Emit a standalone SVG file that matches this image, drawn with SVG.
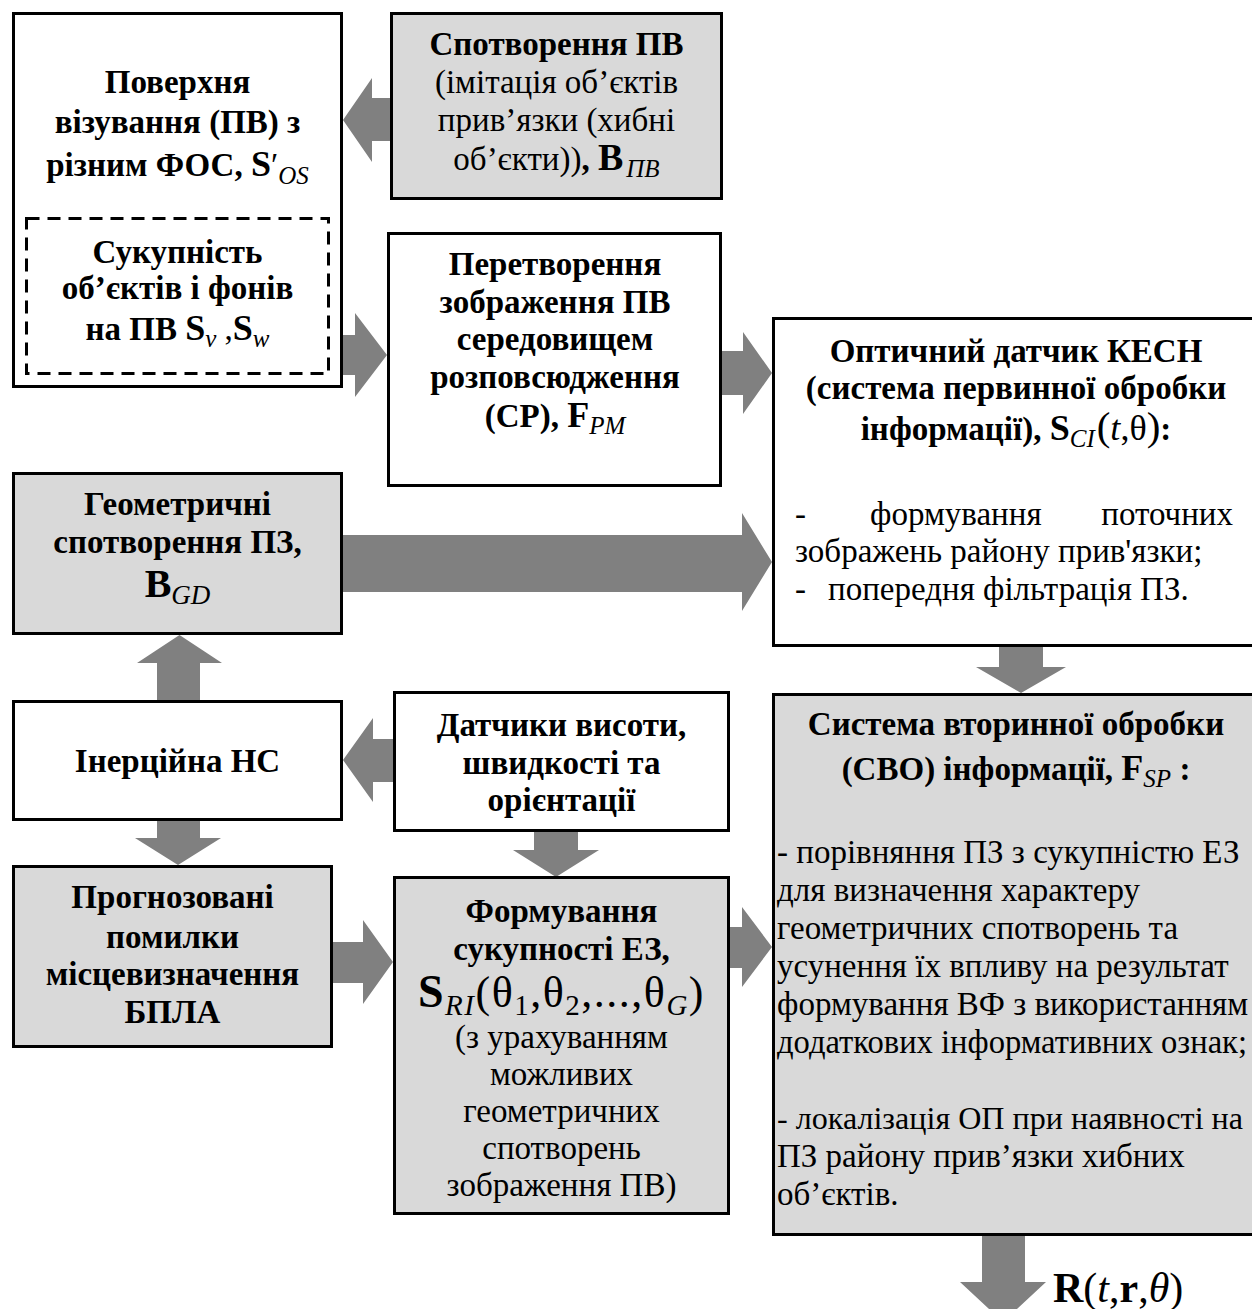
<svg xmlns="http://www.w3.org/2000/svg" width="1252" height="1309" viewBox="0 0 1252 1309">
  <style>
    .box { stroke: #000; stroke-width: 3; }
    .w { fill: #fff; }
    .g { fill: #d9d9d9; }
    .dash { fill: none; stroke: #000; stroke-width: 3; stroke-dasharray: 13 8; }
    .arrow { fill: #808080; }
    text { font-family: "Liberation Serif", "Times New Roman", serif; font-size: 33px; fill: #000; }
    .c { text-anchor: middle; }
    .b { font-weight: bold; }
    .n { font-weight: normal; font-style: normal; }
    .i { font-style: italic; font-weight: normal; }
    .sym { font-size: 36px; font-weight: bold; font-style: normal; }
    .sub { font-size: 25px; }
  </style>

  <rect x="0" y="0" width="1252" height="1309" fill="#fff"/>

  <!-- connectors: thick block arrows -->
  <g id="connectors">
    <polygon class="arrow" points="390,98 372,98 372,78 343,120 372,162 372,141 390,141"/>
    <polygon class="arrow" points="343,335 355,335 355,313 387,355 355,397 355,375 343,375"/>
    <polygon class="arrow" points="722,351 743,351 743,332 772,373 743,414 743,395 722,395"/>
    <polygon class="arrow" points="343,535 742,535 742,513 772,562 742,611 742,592 343,592"/>
    <polygon class="arrow" points="157,700 157,663 137,663 179.5,635 222,663 200,663 200,700"/>
    <polygon class="arrow" points="393,739 373,739 373,718 343,760 373,802 373,782 393,782"/>
    <polygon class="arrow" points="157,821 157,838 135,838 178,865 221,838 200,838 200,821"/>
    <polygon class="arrow" points="534,832 534,850 513,850 556,877 599,850 578,850 578,832"/>
    <polygon class="arrow" points="333,942 363,942 363,920 393,962 363,1004 363,983 333,983"/>
    <polygon class="arrow" points="730,927 742,927 742,907 772,947 742,987 742,968 730,968"/>
    <polygon class="arrow" points="999,646 999,667 976,667 1021,693 1066,667 1043,667 1043,646"/>
    <polygon class="arrow" points="982,1236 982,1282 960,1282 1003,1322 1046,1282 1025,1282 1025,1236"/>
    <text x="1053" y="1302" style="font-size:42px"><tspan class="b">R</tspan>(<tspan class="i">t</tspan>,<tspan class="b">r</tspan>,<tspan class="i">θ</tspan>)</text>
  </g>

  <!-- surface of sighting, with the dashed set of objects and backgrounds inside -->
  <g id="surface">
    <rect class="box w" x="13.5" y="13.5" width="328" height="373"/>
    <text class="c b" x="177.5" y="93">Поверхня</text>
    <text class="c b" x="177.5" y="133">візування (ПВ) з</text>
    <text class="c b" x="177.5" y="176">різним ФОС, <tspan class="sym">S</tspan><tspan class="n">′</tspan><tspan class="i sub" dy="8">OS</tspan></text>
  </g>
  <g id="objects-set">
    <rect class="dash" x="26.5" y="218.5" width="302" height="155"/>
    <text class="c b" x="177.5" y="263">Сукупність</text>
    <text class="c b" x="177.5" y="299">об’єктів і фонів</text>
    <text class="c b" x="177.5" y="340">на ПВ <tspan class="sym">S</tspan><tspan class="i sub" dy="7">v</tspan><tspan class="n" dy="-7"> ,</tspan><tspan class="sym">S</tspan><tspan class="i sub" dy="7">w</tspan></text>
  </g>

  <g id="surface-distortion">
    <rect class="box g" x="391.5" y="13.5" width="330" height="185"/>
    <text class="c b" x="556.5" y="55">Спотворення ПВ</text>
    <text class="c" x="556.5" y="93">(імітація об’єктів</text>
    <text class="c" x="556.5" y="131">прив’язки (хибні</text>
    <text class="c" x="556.5" y="170">об’єкти))<tspan class="b">, </tspan><tspan class="sym" style="font-size:38px">B</tspan><tspan class="i sub" dy="7" dx="3">ПВ</tspan></text>
  </g>

  <g id="medium-transform">
    <rect class="box w" x="388.5" y="233.5" width="332" height="252"/>
    <text class="c b" x="555" y="275">Перетворення</text>
    <text class="c b" x="555" y="313">зображення ПВ</text>
    <text class="c b" x="555" y="350">середовищем</text>
    <text class="c b" x="555" y="388">розповсюдження</text>
    <text class="c b" x="555" y="427">(СР), <tspan class="sym">F</tspan><tspan class="i sub" dy="7">PM</tspan></text>
  </g>

  <g id="optical-sensor">
    <rect class="box w" x="773.5" y="318.5" width="490" height="327"/>
    <text class="c b" x="1016" y="362">Оптичний датчик КЕСН</text>
    <text class="c b" x="1016" y="399">(система первинної обробки</text>
    <text class="c b" x="1016" y="440">інформації), <tspan class="sym">S</tspan><tspan class="i sub" dy="7">CI</tspan><tspan class="n" dy="-7" dx="2" style="font-size:41px">(</tspan><tspan class="i" style="font-size:36px">t</tspan><tspan class="n" style="font-size:36px">,θ</tspan><tspan class="n" style="font-size:41px">)</tspan>:</text>
    <text x="795" y="525">-</text>
    <text x="870" y="525">формування</text>
    <text x="1233" y="525" style="text-anchor:end">поточних</text>
    <text x="795" y="562">зображень району прив'язки;</text>
    <text x="795" y="600">-</text>
    <text x="828" y="600">попередня фільтрація ПЗ.</text>
  </g>

  <g id="geometric-distortion">
    <rect class="box g" x="13.5" y="473.5" width="328" height="160"/>
    <text class="c b" x="177.5" y="515">Геометричні</text>
    <text class="c b" x="177.5" y="553">спотворення ПЗ,</text>
    <text class="c b" x="177.5" y="597"><tspan class="sym" style="font-size:40px">B</tspan><tspan class="i sub" dy="7" style="font-size:27px">GD</tspan></text>
  </g>

  <g id="inertial-ns">
    <rect class="box w" x="13.5" y="701.5" width="328" height="118"/>
    <text class="c b" x="177.5" y="772">Інерційна НС</text>
  </g>

  <g id="motion-sensors">
    <rect class="box w" x="394.5" y="692.5" width="334" height="138"/>
    <text class="c b" x="561.5" y="736">Датчики висоти,</text>
    <text class="c b" x="561.5" y="774">швидкості та</text>
    <text class="c b" x="561.5" y="811">орієнтації</text>
  </g>

  <g id="reference-set">
    <rect class="box g" x="394.5" y="877.5" width="334" height="336"/>
    <text class="c b" x="561.5" y="922">Формування</text>
    <text class="c b" x="561.5" y="960">сукупності ЕЗ,</text>
    <text class="c" x="561.5" y="1007" style="font-size:44px;letter-spacing:1.5px"><tspan class="sym" style="font-size:46px">S</tspan><tspan class="i" dy="8" style="font-size:29px">RI</tspan><tspan dy="-8">(θ</tspan><tspan dy="8" style="font-size:29px">1</tspan><tspan dy="-8">,θ</tspan><tspan dy="8" style="font-size:29px">2</tspan><tspan dy="-8">,...,θ</tspan><tspan class="i" dy="8" style="font-size:29px">G</tspan><tspan dy="-8">)</tspan></text>
    <text class="c" x="561.5" y="1048">(з урахуванням</text>
    <text class="c" x="561.5" y="1085">можливих</text>
    <text class="c" x="561.5" y="1122">геометричних</text>
    <text class="c" x="561.5" y="1159">спотворень</text>
    <text class="c" x="561.5" y="1196">зображення ПВ)</text>
  </g>

  <g id="predicted-errors">
    <rect class="box g" x="13.5" y="866.5" width="318" height="180"/>
    <text class="c b" x="172.5" y="908">Прогнозовані</text>
    <text class="c b" x="172.5" y="948">помилки</text>
    <text class="c b" x="172.5" y="985">місцевизначення</text>
    <text class="c b" x="172.5" y="1023">БПЛА</text>
  </g>

  <g id="secondary-processing">
    <rect class="box g" x="773.5" y="694.5" width="490" height="540"/>
    <text class="c b" x="1016" y="735">Система вторинної обробки</text>
    <text class="c b" x="1016" y="780">(СВО) інформації, <tspan class="sym">F</tspan><tspan class="i sub" dy="7">SP</tspan><tspan dy="-7"> :</tspan></text>
    <text x="777" y="863">- порівняння ПЗ з сукупністю ЕЗ</text>
    <text x="777" y="901">для визначення характеру</text>
    <text x="777" y="939">геометричних спотворень та</text>
    <text x="777" y="977">усунення їх впливу на результат</text>
    <text x="777" y="1015">формування ВФ з використанням</text>
    <text x="777" y="1053" textLength="470" lengthAdjust="spacingAndGlyphs">додаткових інформативних ознак;</text>
    <text x="777" y="1129" style="font-size:32px" textLength="466" lengthAdjust="spacingAndGlyphs">- локалізація ОП при наявності на</text>
    <text x="777" y="1167">ПЗ району прив’язки хибних</text>
    <text x="777" y="1205">об’єктів.</text>
  </g>
</svg>
